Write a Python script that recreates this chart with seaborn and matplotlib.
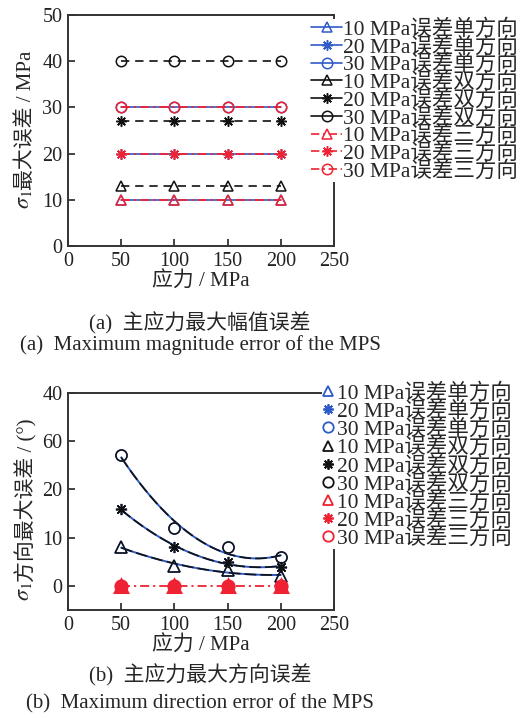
import numpy as np
import pandas as pd
import matplotlib
matplotlib.use("Agg")
import matplotlib.pyplot as plt
from matplotlib.lines import Line2D
import seaborn as sns

sns.set_style("ticks")
plt.rcParams["font.family"] = ["Liberation Serif", "Noto Sans CJK SC", "DejaVu Sans"]
plt.rcParams["mathtext.fontset"] = "stix"

# ---------------- data ----------------
stress = [50, 100, 150, 200]

# (a) maximum magnitude error of sigma_1, MPa
mag_single_10 = [10, 10, 10, 10]
mag_single_20 = [20, 20, 20, 20]
mag_single_30 = [30, 30, 30, 30]
mag_double_10 = [13, 13, 13, 13]
mag_double_20 = [27, 27, 27, 27]
mag_double_30 = [40, 40, 40, 40]
mag_triple_10 = [10, 10, 10, 10]
mag_triple_20 = [20, 20, 20, 20]
mag_triple_30 = [30, 30, 30, 30]

# (b) maximum direction error of sigma_1, degrees
dir_single_10 = [8.1, 4.1, 3.3, 2.1]
dir_single_20 = [15.9, 8.0, 4.9, 4.0]
dir_single_30 = [27.1, 12.1, 8.0, 5.9]
dir_double_10 = [8.1, 4.1, 3.3, 2.1]
dir_double_20 = [15.9, 8.0, 4.9, 4.0]
dir_double_30 = [27.1, 12.1, 8.0, 5.9]
dir_triple_10 = [0, 0, 0, 0]
dir_triple_20 = [0, 0, 0, 0]
dir_triple_30 = [0, 0, 0, 0]

labels = ["10 MPa误差单方向", "20 MPa误差单方向", "30 MPa误差单方向",
          "10 MPa误差双方向", "20 MPa误差双方向", "30 MPa误差双方向",
          "10 MPa误差三方向", "20 MPa误差三方向", "30 MPa误差三方向"]

x_ticks = [0, 50, 100, 150, 200, 250]
a_yticks = [0, 10, 20, 30, 40, 50]
b_yticks = [0, 10, 20, 30, 40]
b_yticklabels = ["0", "10", "20", "60", "40"]

# ---------------- styles ----------------
BLUE = "#2E5BC8"
BLACK = "#111111"
RED = "#EE2233"
AST = (8, 2, 0)          # eight-armed asterisk
MARKS = ["^", AST, "o"]
DASH = (0, (5, 3.5))
DASHDOT = (0, (5, 2.2, 1.2, 2.2))
LEG_FS = 15.5

fig = plt.figure(figsize=(5.25, 7.18), dpi=100)
ax1 = fig.add_axes([68 / 525, 1 - 246 / 718, 266 / 525, 231 / 718])
ax2 = fig.add_axes([68 / 525, 1 - 610 / 718, 266 / 525, 217 / 718])


def draw(ax, ys, color, ls, marker, lw=1.2, ms=7.5, z=2):
    sns.lineplot(x=stress, y=ys, ax=ax, color=color, linestyle=ls, lw=lw,
                 marker=marker, markersize=ms, markerfacecolor="none",
                 markeredgecolor=color, markeredgewidth=1.1, zorder=z,
                 legend=False)


# ---- panel (a) ----
for ys, m in zip([mag_single_10, mag_single_20, mag_single_30], MARKS):
    draw(ax1, ys, BLUE, "-", m, z=2)
for ys, m in zip([mag_double_10, mag_double_20, mag_double_30], MARKS):
    draw(ax1, ys, BLACK, DASH, m, z=3)
for ys, m in zip([mag_triple_10, mag_triple_20, mag_triple_30], MARKS):
    draw(ax1, ys, RED, DASHDOT, m, lw=1.3, z=4)

# ---- panel (b): quadratic trend curves through the points ----
xs = np.linspace(stress[0], stress[-1], 200)
for ys in [dir_single_10, dir_single_20, dir_single_30]:
    fit = np.polyval(np.polyfit(stress, ys, 2), xs)
    sns.lineplot(x=xs, y=fit, ax=ax2, color=BLUE, lw=1.4, zorder=2, legend=False)
for ys in [dir_double_10, dir_double_20, dir_double_30]:
    fit = np.polyval(np.polyfit(stress, ys, 2), xs)
    sns.lineplot(x=xs, y=fit, ax=ax2, color=BLACK, lw=1.2, linestyle=(0, (7, 2.5)),
                 zorder=3, legend=False)
for ys, m in zip([dir_single_10, dir_single_20, dir_single_30], MARKS):
    draw(ax2, ys, BLUE, "none", m, ms=8, z=4)
for ys, m in zip([dir_double_10, dir_double_20, dir_double_30], MARKS):
    draw(ax2, ys, BLACK, "none", m, ms=8, z=5)
sns.lineplot(x=stress, y=dir_triple_10, ax=ax2, color=RED, lw=1.3,
             linestyle=DASHDOT, zorder=6, legend=False)
for ys, m in zip([dir_triple_10, dir_triple_20, dir_triple_30], MARKS):
    draw(ax2, ys, RED, "none", m, ms=8, z=7)
    ax2.lines[-1].set_markeredgewidth(2.2)

# ---- axes cosmetics ----
for ax in (ax1, ax2):
    ax.set_xlim(0, 250)
    ax.set_xticks(x_ticks)
    ax.tick_params(direction="in", length=5, width=1.2, labelsize=14.5, pad=4,
                   colors="#222222", top=False, right=False)
    for s in ax.spines.values():
        s.set_linewidth(1.4)
        s.set_color("#333333")
    ax.set_xlabel("应力 / MPa", fontsize=15, labelpad=1)
    ax.set_ylabel("")

ax1.set_ylim(0, 50)
ax1.set_yticks(a_yticks)
ax2.set_ylim(-5, 40)
ax2.set_yticks(b_yticks)
ax2.set_yticklabels(b_yticklabels)


def ylabel(ax, rest, x, y):
    sig = ax.text(x, y, r"$\sigma_1$", rotation=90, transform=ax.transAxes,
                  fontsize=16, ha="center", va="bottom")
    ax.annotate(rest, xy=(0.62, 1.0), xycoords=sig, rotation=90,
                fontsize=15, ha="center", va="bottom")


ylabel(ax1, "最大误差 / MPa", -0.165, 0.16)
ylabel(ax2, "方向最大误差 / (°)", -0.165, 0.04)

# ---- legends ----
h_a = []
for col, ls in [(BLUE, "-"), (BLACK, "-"), (RED, DASHDOT)]:
    for m in MARKS:
        h_a.append(Line2D([], [], color=col, linestyle=ls, lw=1.2, marker=m,
                          markersize=7.5, markerfacecolor="none",
                          markeredgecolor=col, markeredgewidth=1.1))
leg_a = ax1.legend(h_a, labels, loc="upper left",
                   bbox_to_anchor=(311 / 525, 1 - 19 / 718),
                   bbox_transform=fig.transFigure, fontsize=LEG_FS,
                   frameon=True, framealpha=1, facecolor="white",
                   edgecolor="none", borderpad=0.0, borderaxespad=0,
                   handlelength=1.45, handletextpad=0.05, labelspacing=-0.135)

h_b = []
for col in (BLUE, BLACK, RED):
    for m in MARKS:
        h_b.append(Line2D([], [], color=col, linestyle="none", marker=m,
                          markersize=7.5, markerfacecolor="none",
                          markeredgecolor=col, markeredgewidth=1.3))
leg_b = ax2.legend(h_b, labels, loc="upper left",
                   bbox_to_anchor=(322 / 525, 1 - 383 / 718),
                   bbox_transform=fig.transFigure, fontsize=LEG_FS,
                   frameon=True, framealpha=1, facecolor="white",
                   edgecolor="none", borderpad=0.0, borderaxespad=0,
                   handlelength=0.55, handletextpad=0.15, labelspacing=-0.115)

# ---- captions ----
fig.text(200 / 525, 1 - 323 / 718, "(a)  主应力最大幅值误差", fontsize=15,
         ha="center", va="center")
fig.text(200 / 525, 1 - 345 / 718, "(a)  Maximum magnitude error of the MPS",
         fontsize=15, ha="center", va="center")
fig.text(200 / 525, 1 - 675 / 718, "(b)  主应力最大方向误差", fontsize=15,
         ha="center", va="center")
fig.text(200 / 525, 1 - 704 / 718, "(b)  Maximum direction error of the MPS",
         fontsize=15, ha="center", va="center")

fig.savefig("out.png", dpi=100)
